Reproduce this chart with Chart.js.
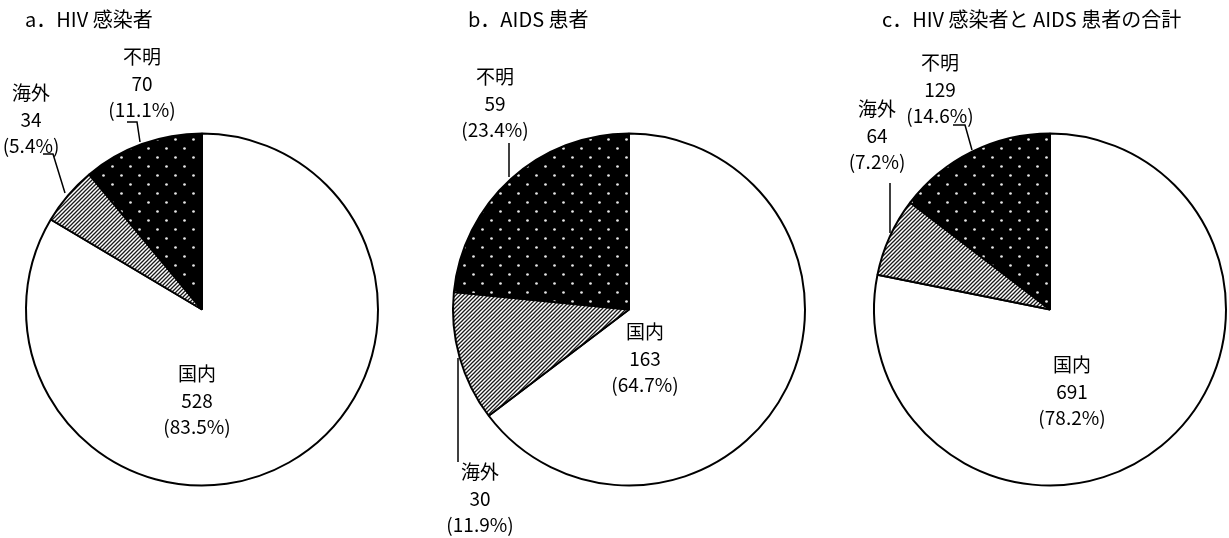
<!DOCTYPE html>
<html lang="ja">
<head>
<meta charset="utf-8">
<title>HIV 感染者・AIDS 患者 感染地域別</title>
<script src="https://cdn.jsdelivr.net/npm/chart.js@4.4.1/dist/chart.umd.min.js"></script>
<style>
  html, body { margin: 0; padding: 0; background: #fff; }
  body { width: 1229px; height: 538px; position: relative; overflow: hidden; }
  .pie { position: absolute; top: 0; height: 538px; }
</style>
</head>
<body>
<canvas id="pieA" class="pie" style="left:0px" width="415" height="538"></canvas>
<canvas id="pieB" class="pie" style="left:415px" width="420" height="538"></canvas>
<canvas id="pieC" class="pie" style="left:835px" width="394" height="538"></canvas>
<script>
// Categories (clockwise from 12 o'clock)
const categories = ['国内', '海外', '不明'];

// Reported counts per category
const hivValues   = [528, 34, 70];
const aidsValues  = [163, 30, 59];
const totalValues = [691, 64, 129];

// Panel titles
const panelTitles = [
  'a．HIV 感染者',
  'b．AIDS 患者',
  'c．HIV 感染者と AIDS 患者の合計'
];

const FONT = '"Noto Sans CJK JP", "Noto Sans", sans-serif';
const RADIUS = 176;
const LINE_GAP = 26.5;

// Fill patterns: plain white, fine diagonal hatch, black with light dots
function makeHatch() {
  const c = document.createElement('canvas');
  c.width = 4; c.height = 4;
  const g = c.getContext('2d');
  g.fillStyle = '#fff';
  g.fillRect(0, 0, 4, 4);
  g.strokeStyle = '#1a1a1a';
  g.lineWidth = 1.3;
  g.beginPath();
  g.moveTo(-1, 5); g.lineTo(5, -1);
  g.moveTo(-3, 3); g.lineTo(3, -3);
  g.moveTo(1, 7); g.lineTo(7, 1);
  g.stroke();
  return g.createPattern(c, 'repeat');
}
function makeDots() {
  const c = document.createElement('canvas');
  c.width = 18; c.height = 18;
  const g = c.getContext('2d');
  g.fillStyle = '#000';
  g.fillRect(0, 0, 18, 18);
  g.fillStyle = '#e6e6e6';
  g.beginPath(); g.arc(4.5, 4.5, 1.35, 0, Math.PI * 2); g.fill();
  g.beginPath(); g.arc(13.5, 13.5, 1.35, 0, Math.PI * 2); g.fill();
  return g.createPattern(c, 'repeat');
}
const fills = ['#ffffff', makeHatch(), makeDots()];

// Draws the title, the three-line category labels and leader lines
const calloutPlugin = {
  id: 'callouts',
  afterDatasetsDraw(chart, args, opts) {
    const arc = chart.getDatasetMeta(0).data[0];
    if (!arc) return;
    const cx = arc.x, cy = arc.y;
    const ctx = chart.ctx;
    const values = chart.data.datasets[0].data;
    const total = values.reduce((a, b) => a + b, 0);
    ctx.save();
    ctx.fillStyle = '#000';
    ctx.textBaseline = 'middle';

    ctx.font = '20px ' + FONT;
    ctx.textAlign = 'left';
    ctx.fillText(opts.title, cx + opts.titlePos[0], cy + opts.titlePos[1]);

    ctx.font = '19px ' + FONT;
    ctx.textAlign = 'center';
    opts.labelPos.forEach((p, i) => {
      const pct = (values[i] / total * 100).toFixed(1);
      const lines = [chart.data.labels[i], String(values[i]), '(' + pct + '%)'];
      lines.forEach((t, k) => ctx.fillText(t, cx + p[0], cy + p[1] + k * LINE_GAP));
    });

    ctx.strokeStyle = '#000';
    ctx.lineWidth = 1.5;
    opts.leaders.forEach(path => {
      ctx.beginPath();
      path.forEach((pt, k) => {
        if (k === 0) ctx.moveTo(cx + pt[0], cy + pt[1]);
        else ctx.lineTo(cx + pt[0], cy + pt[1]);
      });
      ctx.stroke();
    });
    ctx.restore();
  }
};

function makePie(id, pageLeft, width, center, values, title, callouts) {
  const [cx, cy] = center;
  const half = 170;
  new Chart(document.getElementById(id), {
    type: 'pie',
    data: {
      labels: categories,
      datasets: [{
        data: values,
        backgroundColor: fills,
        borderColor: '#000',
        borderWidth: 2,
        hoverOffset: 0
      }]
    },
    options: {
      responsive: false,
      devicePixelRatio: 1,
      animation: false,
      radius: RADIUS,
      layout: {
        padding: {
          left: cx - pageLeft - half,
          right: pageLeft + width - cx - half,
          top: cy - half,
          bottom: 538 - cy - half
        }
      },
      plugins: {
        legend: { display: false },
        tooltip: { enabled: false },
        callouts: Object.assign({ title }, callouts)
      }
    },
    plugins: [calloutPlugin]
  });
}

makePie('pieA', 0, 415, [202, 309.5], hivValues, panelTitles[0], {
  titlePos: [-177, -290.5],
  labelPos: [[-5, 64.5], [-171, -216.5], [-60, -252.5]],
  leaders: [
    [[-159, -155.5], [-149, -155.5], [-137, -116.5]],
    [[-75, -187.5], [-65, -187.5], [-62, -167.5]]
  ]
});

makePie('pieB', 415, 420, [629, 309.5], aidsValues, panelTitles[1], {
  titlePos: [-161, -290.5],
  labelPos: [[16, 22.5], [-149, 162.5], [-134, -232.5]],
  leaders: [
    [[-171, 48.5], [-171, 152.5]],
    [[-120, -166.5], [-120, -132.5]]
  ]
});

makePie('pieC', 835, 394, [1050, 309.5], totalValues, panelTitles[2], {
  titlePos: [-168, -290.5],
  labelPos: [[22, 55.5], [-173, -200.5], [-110, -246.5]],
  leaders: [
    [[-160, -126.5], [-160, -76.5]],
    [[-97, -184.5], [-85, -184.5], [-78, -159.5]]
  ]
});
</script>
</body>
</html>
